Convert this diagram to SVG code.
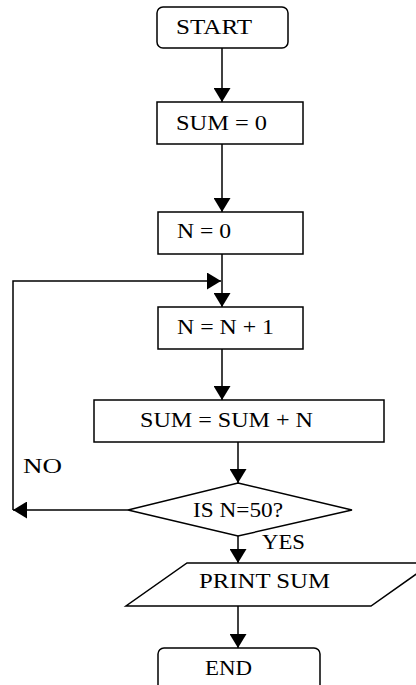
<svg xmlns="http://www.w3.org/2000/svg" width="416" height="685" viewBox="0 0 416 685">
<defs>
<marker id="ah" markerUnits="userSpaceOnUse" markerWidth="14" markerHeight="17" viewBox="0 0 14 17" refX="14" refY="8.5" orient="auto">
<path d="M0,0 L14,8.5 L0,17 Z" fill="#000"/>
</marker>
</defs>
<style>
.shape{fill:#fff;stroke:#000;stroke-width:1.5}
.lbl{font-family:"Liberation Serif","Times New Roman",serif;font-size:21px;fill:#000}
.con{fill:none;stroke:#000;stroke-width:1.5}
</style>
<rect x="0" y="0" width="416" height="685" fill="#fff"/>
<g id="connectors">
<line class="con" x1="222" y1="48" x2="222" y2="102" marker-end="url(#ah)"/>
<line class="con" x1="222" y1="144" x2="222" y2="212" marker-end="url(#ah)"/>
<line class="con" x1="222" y1="254" x2="222" y2="307" marker-end="url(#ah)"/>
<line class="con" x1="222" y1="349" x2="222" y2="400" marker-end="url(#ah)"/>
<line class="con" x1="238" y1="442" x2="238" y2="483" marker-end="url(#ah)"/>
<line class="con" x1="238" y1="536" x2="238" y2="563" marker-end="url(#ah)"/>
<line class="con" x1="238" y1="606" x2="238" y2="648" marker-end="url(#ah)"/>
<line class="con" x1="128" y1="510" x2="13" y2="510" marker-end="url(#ah)"/>
<polyline class="con" points="13,510 13,281 221,281" marker-end="url(#ah)"/>
</g>
<g id="start">
<rect class="shape" x="157" y="7" width="131" height="41" rx="6"/>
<text class="lbl" x="176" y="34" textLength="76" lengthAdjust="spacingAndGlyphs">START</text>
</g>
<g id="sum0">
<rect class="shape" x="157" y="102" width="146" height="42"/>
<text class="lbl" x="176" y="130" textLength="91" lengthAdjust="spacingAndGlyphs">SUM = 0</text>
</g>
<g id="n0">
<rect class="shape" x="158" y="212" width="145" height="42"/>
<text class="lbl" x="177" y="238" textLength="54" lengthAdjust="spacingAndGlyphs">N = 0</text>
</g>
<g id="ninc">
<rect class="shape" x="158" y="307" width="145" height="42"/>
<text class="lbl" x="177" y="334" textLength="97" lengthAdjust="spacingAndGlyphs">N = N + 1</text>
</g>
<g id="sumadd">
<rect class="shape" x="94" y="400" width="290" height="42"/>
<text class="lbl" x="140" y="427" textLength="173" lengthAdjust="spacingAndGlyphs">SUM = SUM + N</text>
</g>
<g id="decision">
<polygon class="shape" points="238,483 352,510 238,536 128,510"/>
<text class="lbl" x="193" y="517" textLength="90" lengthAdjust="spacingAndGlyphs">IS N=50?</text>
</g>
<g id="labels">
<text class="lbl" x="23" y="473" textLength="39" lengthAdjust="spacingAndGlyphs">NO</text>
<text class="lbl" x="262" y="549" textLength="43" lengthAdjust="spacingAndGlyphs">YES</text>
</g>
<g id="print">
<polygon class="shape" points="187,563 432,563 371,606 126,606"/>
<text class="lbl" x="199" y="588" textLength="131" lengthAdjust="spacingAndGlyphs">PRINT SUM</text>
</g>
<g id="end">
<rect class="shape" x="158" y="648" width="162" height="50" rx="6"/>
<text class="lbl" x="205" y="675" textLength="47" lengthAdjust="spacingAndGlyphs">END</text>
</g>
</svg>
